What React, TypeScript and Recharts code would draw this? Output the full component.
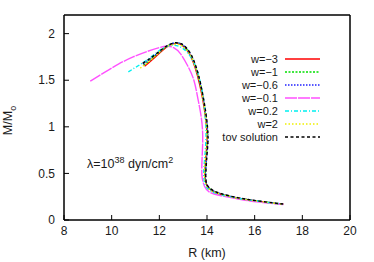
import React from 'react';
import { LineChart, Line, XAxis, YAxis, ReferenceArea } from 'recharts';

const xTicks = [8, 10, 12, 14, 16, 18, 20];
const yTicks = [0, 0.5, 1, 1.5, 2];

// w=-3
const redR = [11.38, 11.7, 12.0, 12.3, 12.55, 12.75, 12.95, 13.2, 13.4, 13.6, 13.78, 13.9, 13.98, 14.0, 13.96, 13.92, 13.92, 13.98, 14.12, 14.4, 15.0, 15.6, 16.2, 16.8, 17.2];
const redM = [1.65, 1.72, 1.79, 1.855, 1.89, 1.895, 1.875, 1.81, 1.71, 1.55, 1.35, 1.17, 1.0, 0.85, 0.7, 0.55, 0.45, 0.38, 0.33, 0.29, 0.25, 0.22, 0.2, 0.18, 0.17];
// w=-1
const greenR = [11.34, 11.7, 12.0, 12.3, 12.57, 12.77, 12.97, 13.22, 13.42, 13.62, 13.8, 13.92, 14.0, 14.02, 13.98, 13.94, 13.93, 13.99, 14.13, 14.42, 15.0, 15.6, 16.2, 16.8, 17.2];
const greenM = [1.66, 1.735, 1.8, 1.86, 1.895, 1.898, 1.878, 1.81, 1.71, 1.55, 1.35, 1.17, 1.0, 0.85, 0.7, 0.55, 0.45, 0.38, 0.332, 0.292, 0.252, 0.222, 0.201, 0.181, 0.171];
// w=-0.6
const blueR = [11.32, 11.7, 12.0, 12.3, 12.58, 12.78, 12.98, 13.23, 13.43, 13.63, 13.81, 13.93, 14.01, 14.03, 13.99, 13.95, 13.94, 13.99, 14.14, 14.44, 15.0, 15.6, 16.2, 16.8, 17.2];
const blueM = [1.67, 1.745, 1.805, 1.862, 1.897, 1.9, 1.879, 1.81, 1.71, 1.55, 1.35, 1.17, 1.0, 0.85, 0.7, 0.55, 0.45, 0.38, 0.333, 0.293, 0.253, 0.223, 0.202, 0.182, 0.171];
// w=-0.1
const magentaR = [9.1, 9.7, 10.3, 10.9, 11.5, 12.0, 12.3, 12.6, 12.9, 13.2, 13.45, 13.62, 13.76, 13.82, 13.8, 13.78, 13.8, 13.9, 14.1, 14.5, 15.0, 15.6, 16.2, 16.8, 17.2];
const magentaM = [1.49, 1.585, 1.675, 1.75, 1.81, 1.85, 1.865, 1.85, 1.78, 1.65, 1.5, 1.3, 1.1, 0.9, 0.7, 0.55, 0.45, 0.36, 0.3, 0.265, 0.24, 0.212, 0.192, 0.176, 0.166];
// w=0.2
const cyanR = [10.7, 11.2, 11.7, 12.2, 12.6, 12.9, 13.2, 13.5, 13.7, 13.85, 13.93, 13.96, 13.93, 13.87, 13.87, 13.93, 14.1, 14.4, 15.0, 15.6, 16.2, 16.8, 17.2];
const cyanM = [1.59, 1.67, 1.76, 1.85, 1.875, 1.855, 1.79, 1.66, 1.5, 1.3, 1.1, 0.95, 0.75, 0.55, 0.45, 0.37, 0.32, 0.285, 0.248, 0.22, 0.2, 0.18, 0.168];
// w=2
const yellowR = [11.2, 11.6, 12.0, 12.3, 12.6, 12.8, 13.0, 13.25, 13.45, 13.65, 13.8, 13.92, 13.98, 14.0, 13.95, 13.9, 13.9, 13.96, 14.1, 14.4, 15.0, 15.6, 16.2, 16.8, 17.2];
const yellowM = [1.63, 1.71, 1.8, 1.86, 1.885, 1.885, 1.86, 1.79, 1.69, 1.53, 1.35, 1.17, 1.0, 0.85, 0.7, 0.55, 0.45, 0.38, 0.33, 0.29, 0.25, 0.22, 0.2, 0.18, 0.168];
// tov solution
const tovR = [11.3, 11.7, 12.0, 12.3, 12.6, 12.8, 13.0, 13.25, 13.45, 13.65, 13.82, 13.94, 14.02, 14.04, 14.0, 13.96, 13.95, 14.0, 14.15, 14.45, 15.0, 15.6, 16.2, 16.8, 17.2];
const tovM = [1.68, 1.75, 1.81, 1.865, 1.9, 1.9, 1.88, 1.81, 1.71, 1.55, 1.35, 1.17, 1.0, 0.85, 0.7, 0.55, 0.45, 0.38, 0.335, 0.295, 0.255, 0.225, 0.203, 0.183, 0.172];

const toPts = (r: number[], m: number[]) => r.map((v, i) => ({ r: v, m: m[i] }));

const series = [
  { name: 'w=\u22123', color: '#ff0000', dash: undefined, data: toPts(redR, redM) },
  { name: 'w=\u22121', color: '#00e000', dash: '2 1.5', data: toPts(greenR, greenM) },
  { name: 'w=\u22120.6', color: '#2020ff', dash: '1.5 1.5', data: toPts(blueR, blueM) },
  { name: 'w=\u22120.1', color: '#ff50ff', dash: '12 1', data: toPts(magentaR, magentaM) },
  { name: 'w=0.2', color: '#00f0f0', dash: '4 2 1 2', data: toPts(cyanR, cyanM) },
  { name: 'w=2', color: '#f0f000', dash: '1.5 2', data: toPts(yellowR, yellowM) },
  { name: 'tov solution', color: '#000000', dash: '3 2.5', data: toPts(tovR, tovM) },
];

const font = '"Liberation Sans", Arial, sans-serif';
const textColor = '#1a1a1a';

const YLabel = (props: any) => {
  const vb = props.viewBox || { x: 0, y: 15, width: 64, height: 205 };
  const cx = vb.x + 12;
  const cy = vb.y + vb.height / 2 + 3;
  return (
    <text x={cx} y={cy} transform={`rotate(-90, ${cx}, ${cy})`} textAnchor="middle" fontSize={12.5} fill={textColor} fontFamily={font}>
      M/M<tspan fontSize={9} dy={4}>o</tspan>
    </text>
  );
};

const XLabel = (props: any) => {
  const vb = props.viewBox || { x: 64, y: 220, width: 286, height: 42 };
  return (
    <text x={vb.x + vb.width / 2} y={vb.y + 37} textAnchor="middle" fontSize={12.5} fill={textColor} fontFamily={font}>
      R (km)
    </text>
  );
};

const tickStyle = { fontSize: 12, fill: textColor, fontFamily: font };

export default function App() {
  return (
    <div style={{ position: 'absolute', left: 0, top: 0, width: 374, height: 262, background: '#fff', fontFamily: font }}>
      <LineChart width={374} height={262} margin={{ top: 14, right: 23, left: 0, bottom: 0 }}>
        <XAxis
          dataKey="r"
          type="number"
          domain={[8, 20]}
          ticks={xTicks}
          allowDataOverflow
          height={42}
          stroke="#000"
          tickSize={-5}
          tickMargin={11}
          tick={tickStyle}
          label={<XLabel />}
        />
        <XAxis
          xAxisId="top"
          orientation="top"
          dataKey="r"
          type="number"
          domain={[8, 20]}
          ticks={xTicks}
          allowDataOverflow
          height={1}
          stroke="#000"
          tickSize={-5}
          tick={false}
        />
        <YAxis
          type="number"
          domain={[0, 2.2]}
          ticks={yTicks}
          allowDataOverflow
          width={64}
          stroke="#000"
          tickSize={-5}
          tickMargin={14}
          tick={tickStyle}
          label={<YLabel />}
        />
        <YAxis
          yAxisId="right"
          orientation="right"
          type="number"
          domain={[0, 2.2]}
          ticks={yTicks}
          allowDataOverflow
          width={1}
          stroke="#000"
          tickSize={-5}
          tick={false}
        />
        <ReferenceArea x1={8} x2={20} y1={0} y2={2.2} fill="none" stroke="#000" strokeWidth={1} ifOverflow="visible" />
        {series.map((s) => (
          <Line
            key={s.name}
            data={s.data}
            dataKey="m"
            name={s.name}
            type="natural"
            stroke={s.color}
            strokeWidth={1.4}
            strokeDasharray={s.dash}
            dot={false}
            isAnimationActive={false}
          />
        ))}
      </LineChart>

      <div style={{ position: 'absolute', left: 87, top: 155, fontSize: 12.5, color: textColor, whiteSpace: 'nowrap' }}>
        λ=10<sup style={{ fontSize: 9 }}>38</sup> dyn/cm<sup style={{ fontSize: 9 }}>2</sup>
      </div>

      <div style={{ position: 'absolute', left: 180, top: 52.5, width: 140 }}>
        {series.map((s) => (
          <div key={s.name} style={{ display: 'flex', alignItems: 'center', justifyContent: 'flex-end', height: 13.05 }}>
            <span style={{ fontSize: 11, color: textColor, lineHeight: '13px', marginRight: 7 }}>{s.name}</span>
            <svg width={35} height={4} style={{ display: 'block' }}>
              <line x1={0} y1={2} x2={35} y2={2} stroke={s.color} strokeWidth={1.4} strokeDasharray={s.dash} />
            </svg>
          </div>
        ))}
      </div>
    </div>
  );
}
